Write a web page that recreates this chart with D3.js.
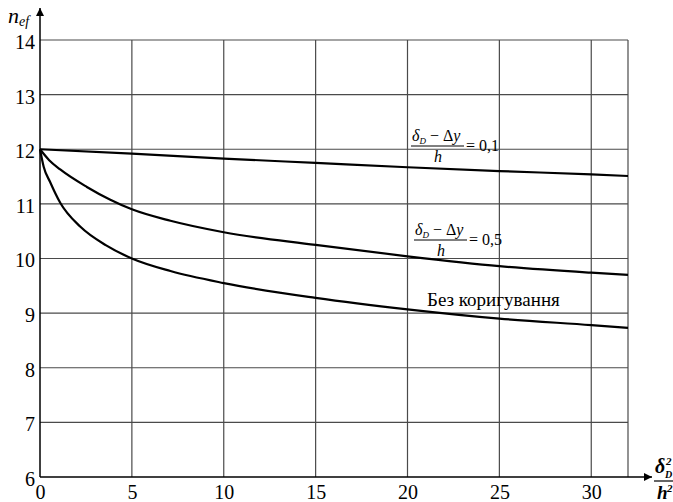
<!DOCTYPE html>
<html>
<head>
<meta charset="utf-8">
<script src="https://cdn.jsdelivr.net/npm/d3@7"></script>
<style>
  body { margin: 0; background: #fff; }
</style>
</head>
<body>
<script>
// values
var xTicks = [0, 5, 10, 15, 20, 25, 30];
var yTicks = [6, 7, 8, 9, 10, 11, 12, 13, 14];

var x01 = [0, 5, 10, 15, 20, 25, 30, 32];
var y01 = [12, 11.92, 11.83, 11.75, 11.67, 11.6, 11.54, 11.51];

var x05 = [0, 0.5, 1.1, 2.55, 3.8, 5, 7.1, 10, 15, 20, 25, 30, 32];
var y05 = [12, 11.8, 11.63, 11.31, 11.08, 10.9, 10.69, 10.48, 10.25, 10.04, 9.86, 9.74, 9.7];

var xRaw = [0, 0.2, 0.55, 1.1, 2.2, 3.6, 5, 7.1, 10, 15, 20, 25, 30, 32];
var yRaw = [12, 11.68, 11.4, 11.02, 10.58, 10.24, 10.0, 9.77, 9.55, 9.28, 9.07, 8.9, 8.78, 8.73];

var rawLabel = 'Без коригування';
var ratioLabels = ['= 0,1', '= 0,5'];

var width = 673, height = 502;
var margin = {top: 40, right: 45, bottom: 25, left: 40};
var serif = 'Liberation Serif';

var svg = d3.select('body').append('svg')
  .attr('width', width)
  .attr('height', height);

var x = d3.scaleLinear().domain([0, 32]).range([margin.left, width - margin.right]);
var y = d3.scaleLinear().domain([6, 14]).range([height - margin.bottom, margin.top]);

// grid
var grid = svg.append('g').attr('stroke', '#4a4a4a').attr('stroke-width', 1.2);
grid.selectAll('.hg')
  .data(yTicks.slice(1))
  .enter().append('line')
  .attr('x1', x(0)).attr('x2', x(32))
  .attr('y1', function(d) { return y(d); })
  .attr('y2', function(d) { return y(d); });
grid.selectAll('.vg')
  .data(xTicks.slice(1).concat([32]))
  .enter().append('line')
  .attr('y1', y(6)).attr('y2', y(14))
  .attr('x1', function(d) { return x(d); })
  .attr('x2', function(d) { return x(d); });

// axes
var xAxis = d3.axisBottom(x).tickValues(xTicks).tickSize(0).tickPadding(8);
var yAxis = d3.axisLeft(y).tickValues(yTicks).tickSize(0).tickPadding(5);

var gx = svg.append('g')
  .attr('transform', 'translate(0,' + y(6) + ')')
  .call(xAxis);
var gy = svg.append('g')
  .attr('transform', 'translate(' + x(0) + ',0)')
  .call(yAxis);
[gx, gy].forEach(function(g) {
  g.select('.domain').remove();
  g.selectAll('text').attr('fill', '#000').attr('font-size', 20);
});
gy.selectAll('text').attr('dy', '0.42em');

// axis lines with arrows
svg.append('defs').append('marker')
  .attr('id', 'arr')
  .attr('viewBox', '0 0 10 10')
  .attr('refX', 10).attr('refY', 5)
  .attr('markerWidth', 13).attr('markerHeight', 8)
  .attr('markerUnits', 'userSpaceOnUse')
  .attr('orient', 'auto')
  .append('path')
  .attr('d', 'M0,0 L10,5 L0,10 Z')
  .attr('fill', '#000');

svg.append('line')
  .attr('x1', x(0)).attr('y1', y(6))
  .attr('x2', x(0)).attr('y2', 8)
  .attr('stroke', '#000').attr('stroke-width', 1.5)
  .attr('marker-end', 'url(#arr)');
svg.append('line')
  .attr('x1', x(0)).attr('y1', y(6))
  .attr('x2', 652).attr('y2', y(6))
  .attr('stroke', '#000').attr('stroke-width', 1.5)
  .attr('marker-end', 'url(#arr)');

// curves
var line = d3.line()
  .x(function(d) { return x(d[0]); })
  .y(function(d) { return y(d[1]); })
  .curve(d3.curveMonotoneX);

[[x01, y01], [x05, y05], [xRaw, yRaw]].forEach(function(s) {
  svg.append('path')
    .datum(d3.zip(s[0], s[1]))
    .attr('d', line)
    .attr('fill', 'none')
    .attr('stroke', '#000')
    .attr('stroke-width', 2.2);
});

// y axis title n_ef
var ny = svg.append('text').attr('x', 8).attr('y', 23)
  .attr('font-size', 22).attr('font-style', 'italic');
ny.append('tspan').text('n');
ny.append('tspan').attr('dy', 3).attr('font-size', 14).text('ef');

// x axis title δ_D^2 / h^2
var xt = svg.append('g').attr('font-style', 'italic').attr('font-weight', 'bold');
xt.append('text').attr('x', 655).attr('y', 473).attr('font-size', 20).text('δ');
xt.append('text').attr('x', 666).attr('y', 465).attr('font-size', 11).text('2');
xt.append('text').attr('x', 665).attr('y', 478).attr('font-size', 10).text('D');
xt.append('line').attr('x1', 654).attr('x2', 673).attr('y1', 481).attr('y2', 481)
  .attr('stroke', '#000').attr('stroke-width', 1.2);
xt.append('text').attr('x', 657).attr('y', 499).attr('font-size', 19).text('h');
xt.append('text').attr('x', 667).attr('y', 492).attr('font-size', 11).text('2');

// fraction labels
function fraction(x0, yb, rhs) {
  var g = svg.append('g');
  var t = g.append('text').attr('x', x0).attr('y', yb).attr('font-size', 16);
  t.append('tspan').attr('font-style', 'italic').text('δ');
  t.append('tspan').attr('dy', 3).attr('font-size', 9).attr('font-style', 'italic').text('D');
  t.append('tspan').attr('dy', -3).text(' − Δ');
  t.append('tspan').attr('font-style', 'italic').text('y');
  g.append('line').attr('x1', x0 - 1).attr('x2', x0 + 52)
    .attr('y1', yb + 5).attr('y2', yb + 5)
    .attr('stroke', '#000').attr('stroke-width', 1);
  g.append('text').attr('x', x0 + 26).attr('y', yb + 21)
    .attr('text-anchor', 'middle').attr('font-size', 16).attr('font-style', 'italic').text('h');
  g.append('text').attr('x', x0 + 54).attr('y', yb + 10)
    .attr('font-size', 16).text(rhs);
}
fraction(412, 141, ratioLabels[0]);
fraction(415, 235, ratioLabels[1]);

svg.append('text')
  .attr('x', 427).attr('y', 306)
  .attr('font-size', 19)
  .text(rawLabel);

// serif everywhere, set on each text directly
svg.selectAll('text').attr('font-family', serif).style('font-family', serif);
</script>
</body>
</html>
